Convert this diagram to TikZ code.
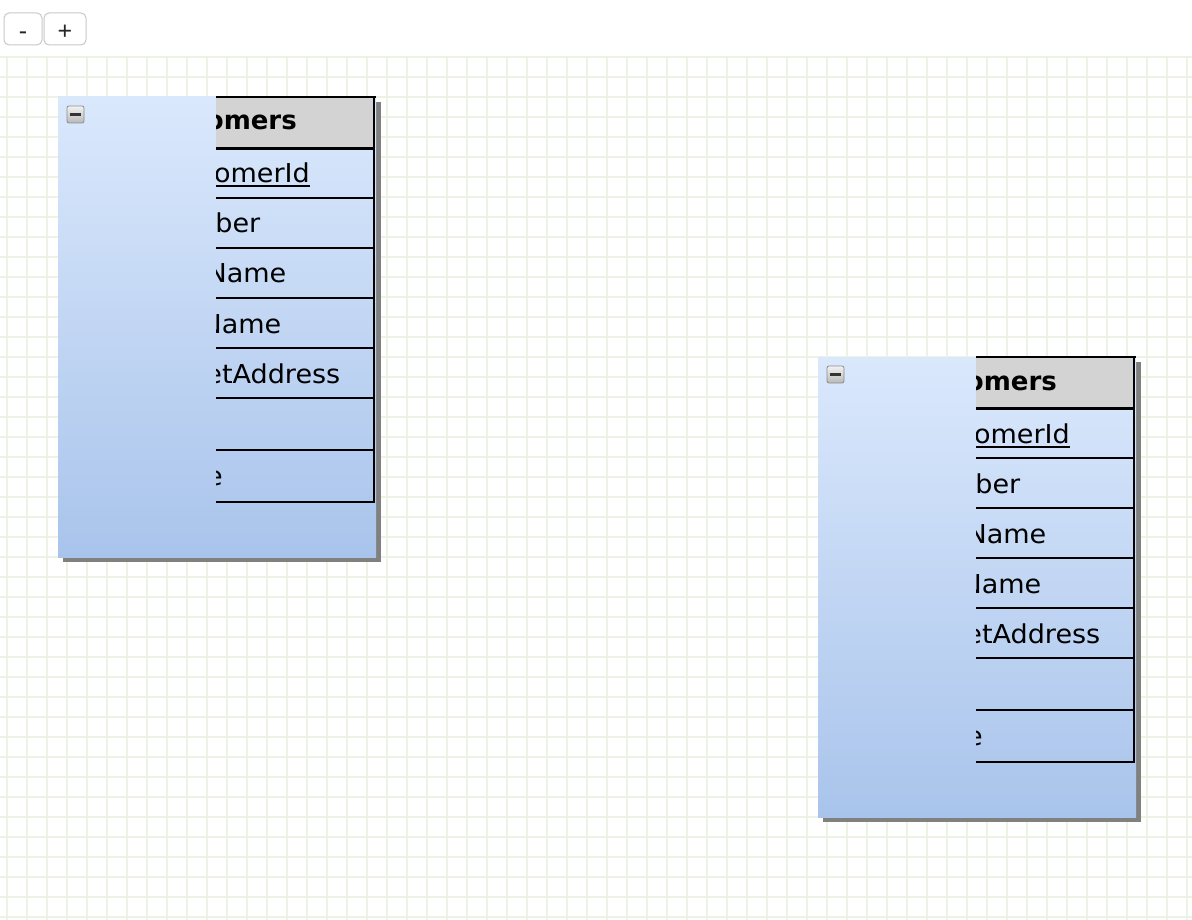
\documentclass[tikz,border=0pt]{standalone}
\usepackage{fontspec}
\usepackage{tikz}
\usetikzlibrary{calc}

\newfontfamily\tblfont{DejaVu Sans}[FakeStretch=1.04]
\newfontfamily\headfont{DejaVu Sans}
\newfontfamily\btnfont{Liberation Sans}

\definecolor{gridgreen}{RGB}{236,242,228}
\definecolor{btngray}{RGB}{200,200,200}
\definecolor{boxtop}{HTML}{DAE8FC}
\definecolor{boxbottom}{HTML}{A9C4EB}
\definecolor{shadowgray}{HTML}{808080}
\definecolor{headgray}{HTML}{D3D3D3}

\tikzset{
	gridline/.style={draw=gridgreen, line width=1.5pt},
	zoombtn/.style={draw=btngray, fill=white, rounded corners=5pt, line width=1pt,
		minimum height=32pt, inner sep=0pt, text=black!85,
		text height=21pt, text depth=0pt,
		font=\btnfont\fontsize{25}{25}\selectfont},
	tblbox/.style={top color=boxtop, bottom color=boxbottom, draw=none},
	tblshadow/.style={fill=shadowgray},
	togglebox/.style={draw=black!45, top color=black!5, bottom color=black!28,
		rounded corners=2pt, minimum size=17pt, inner sep=0pt, line width=0.8pt},
	togglebar/.style={draw=black!80, line width=2.5pt},
	rowline/.style={draw=black, line width=2pt},
	headtext/.style={anchor=base east, inner sep=0pt,
		font=\headfont\bfseries\fontsize{26}{30}\selectfont},
	fieldtext/.style={anchor=base east, inner sep=0pt,
		font=\tblfont\fontsize{26}{30}\selectfont}
}

\begin{document}
\begin{tikzpicture}[x=1pt,y=-1pt]
\useasboundingbox (0,0) rectangle (1192,920);
\fill[white] (0,0) rectangle (1192,920);

% grid
\foreach \gx in {7,27,...,1187}
	\draw[gridline] (\gx,57) -- (\gx,920);
\foreach \gy in {57,77,...,917}
	\draw[gridline] (0,\gy) -- (1192,\gy);

% zoom buttons
\node[zoombtn, minimum width=38pt] (zoomout) at (23,29) {-};
\node[zoombtn, minimum width=42pt] (zoomin) at (65,29) {+};

% the two tables
\foreach \sx/\sy/\t in {0/0/a,760/260/b}{
\begin{scope}[shift={(\sx,\sy)}]
\fill[tblshadow] (63,102) rectangle (381,562);
\shade[tblbox] (58,97) rectangle (376,557);

\node[togglebox] (\t-toggle) at (75.5,114.5) {};
\draw[togglebar] ([xshift=3pt]\t-toggle.west) -- ([xshift=-3pt]\t-toggle.east);

\begin{scope}
\clip (216,90) rectangle (390,510);
\fill[headgray] (216,97) rectangle (374,148);
\draw[rowline] (216,97) -- (375.5,97);
\draw[draw=black, line width=3pt] (216,148.5) -- (374,148.5);
\foreach \ry in {198,248,298,348,398,450,502}
	\draw[rowline] (216,\ry) -- (374,\ry);
\draw[rowline] (374.3,96) -- (374.3,503);

\node[headtext] (\t-title) at (297,130) {omers};
\node[fieldtext] (\t-id) at (310,183) {omerId};
\draw[draw=black, line width=2pt] ([yshift=-3.5pt]\t-id.base west) -- ([yshift=-3.5pt]\t-id.base east);
\node[fieldtext] (\t-number) at (260.5,233) {ber};
\node[fieldtext] (\t-first) at (286.5,283) {Name};
\node[fieldtext] (\t-last) at (281.5,333) {Name};
\node[fieldtext] (\t-street) at (340.5,383) {etAddress};
\node[fieldtext] (\t-state) at (223,485) {e};
\end{scope}
\end{scope}
}

\end{tikzpicture}
\end{document}
